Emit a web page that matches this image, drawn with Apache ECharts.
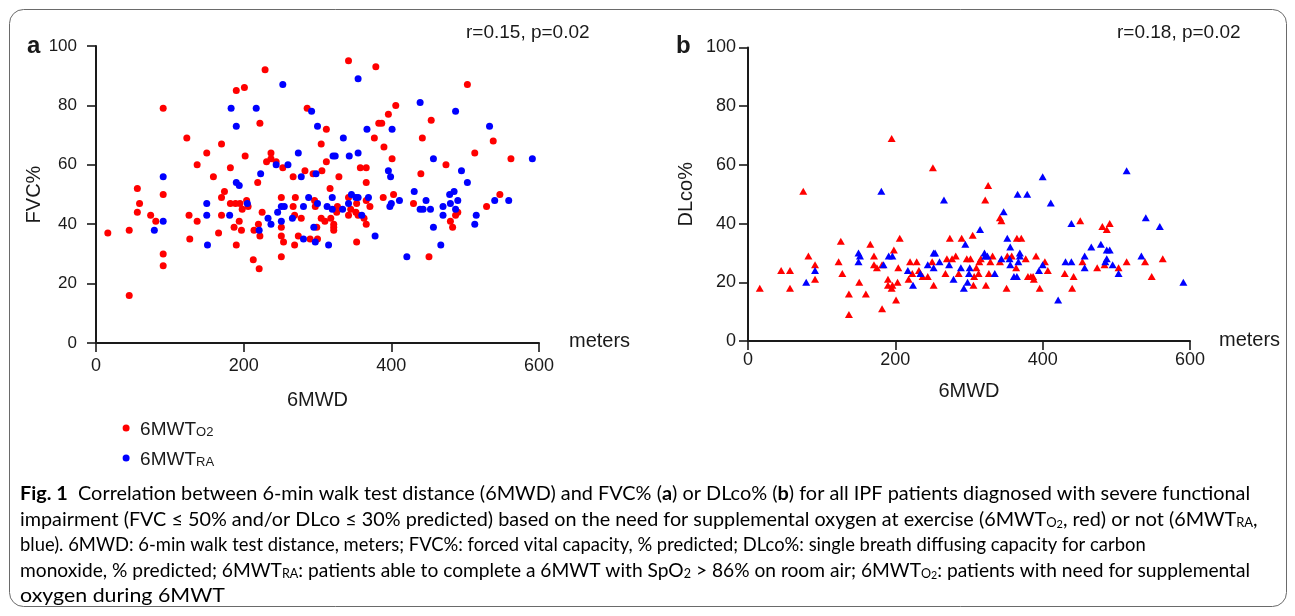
<!DOCTYPE html>
<html>
<head>
<meta charset="utf-8">
<script src="https://cdn.jsdelivr.net/npm/echarts@6/dist/echarts.min.js"></script>
<style>
html,body{margin:0;padding:0;background:#fff;}
#chart{width:1295px;height:616px;}
</style>
</head>
<body>
<div id="chart"></div>
<script>
// ---- Data (6MWD in meters, value in % predicted) ----
var xTicks = [0, 200, 400, 600];
var yTicks = [0, 20, 40, 60, 80, 100];

// Panel a: FVC% vs 6MWD
var fvcO2 = [
[16,37],[45,38],[45,16],[56,52],[59,47],[56,44],[74,43],[81,41],[91,79],[91,50],[91,30],[91,26],
[123,69],[126,43],[127,35],[137,60],[137,41],[150,64],[159,56],[166,37],[170,67],[170,49],[170,43],
[174,51],[182,59],[182,47],[187,39],[190,85],[190,33],[189,47],[195,47],[194,41],[197,38],[198,45],
[201,86],[202,63],[204,48],[206,46],[213,28],[214,38],[219,54],[220,40],[221,25],[222,36],[222,74],
[225,44],[229,92],[231,61],[237,64],[237,62],[244,61],[251,49],[251,39],[251,36],[251,29],[253,59],
[254,34],[267,56],[267,46],[269,43],[269,33],[270,49],[274,36],[278,42],[283,58],[286,79],[290,35],
[294,57],[296,48],[297,46],[299,39],[300,35],[305,67],[306,58],[305,42],[310,41],[312,72],[312,61],
[317,52],[318,42],[322,40],[322,39],[322,38],[327,46],[326,44],[329,56],[342,95],[342,49],[342,43],
[345,45],[352,44],[353,34],[353,47],[355,43],[358,59],[363,42],[366,59],[366,54],[366,40],[371,46],
[366,48],[377,69],[379,93],[383,74],[387,74],[389,49],[390,66],[396,77],[401,62],[403,50],[406,80],
[430,47],[440,57],[442,69],[451,29],[454,75],[474,60],[480,41],[483,39],[487,43],[490,44],[503,87],
[513,64],[529,46],[538,68],[547,50],[562,62]
];
var fvcRA = [
[79,38],[91,56],[91,41],[150,47],[150,43],[151,33],[181,43],[183,79],[190,73],[190,54],[194,53],
[205,47],[217,79],[221,38],[223,57],[233,42],[237,40],[244,60],[246,44],[251,46],[251,41],[253,87],
[255,46],[260,60],[266,42],[274,64],[278,56],[281,46],[281,35],[288,49],[292,78],[295,39],[297,34],
[298,57],[300,47],[300,73],[313,46],[315,33],[320,45],[320,49],[321,63],[324,63],[334,45],[335,69],
[342,47],[343,63],[346,50],[352,49],[355,49],[355,64],[355,89],[360,43],[367,72],[369,49],[378,36],
[396,58],[398,46],[399,56],[401,72],[400,47],[411,48],[421,29],[431,51],[439,81],[439,45],[443,45],
[447,48],[453,45],[457,62],[457,39],[467,33],[470,46],[470,43],[479,50],[480,47],[485,51],[487,78],
[487,45],[490,48],[495,58],[503,54],[513,40],[515,43],[533,73],[540,48],[559,48],[591,62]
];

// Panel b: DLco% vs 6MWD
var dlcoO2 = [
[16,18],[45,24],[57,24],[57,18],[75,51],[82,29],[91,26],[91,21],[123,27],[126,34],[128,23],[137,16],
[137,9],[151,20],[160,16],[166,33],[171,29],[171,26],[175,25],[182,26],[182,11],[190,19],[190,21],
[195,69],[195,18],[196,19],[198,31],[201,14],[203,20],[204,25],[206,35],[218,21],[220,27],[223,23],
[229,27],[232,24],[237,22],[244,22],[251,59],[252,19],[250,27],[268,23],[270,28],[274,35],[277,28],
[282,29],[286,23],[290,35],[297,28],[302,28],[305,36],[306,19],[307,22],[310,25],[313,23],[314,27],
[316,28],[322,48],[323,19],[326,53],[327,23],[329,27],[332,29],[342,42],[344,41],[342,27],[351,18],
[352,29],[358,29],[364,25],[365,35],[371,35],[377,28],[380,22],[384,22],[387,22],[388,21],[391,29],
[396,18],[403,27],[407,24],[430,23],[440,18],[442,22],[451,41],[454,27],[474,25],[481,39],[484,26],
[487,38],[491,40],[503,25],[514,27],[539,27],[548,22],[563,28]
];
var dlcoRA = [
[79,20],[91,24],[150,30],[150,27],[152,29],[181,51],[184,26],[191,29],[196,29],[217,24],[224,19],
[234,23],[244,26],[252,30],[254,30],[252,25],[260,27],[266,48],[273,26],[279,21],[289,25],[293,18],
[295,33],[298,20],[300,23],[301,25],[315,38],[321,30],[322,29],[325,29],[335,23],[344,28],[347,44],
[352,35],[356,32],[355,28],[356,26],[361,22],[365,22],[366,50],[367,27],[369,30],[369,29],[379,50],
[395,24],[400,26],[400,56],[411,47],[421,14],[431,27],[439,40],[439,27],[457,29],[457,25],[466,32],
[479,33],[485,27],[487,28],[487,31],[491,31],[495,26],[503,23],[514,58],[534,29],[540,42],[559,39],
[591,20]
];

var stats = ['r=0.15, p=0.02', 'r=0.18, p=0.02'];
var yNames = ['FVC%', 'DLco%'];
var xName = '6MWD';
var unitLabel = 'meters';

// ---- Styling ----
var RED = '#ff0000', BLUE = '#0000ff', INK = '#1a1a1a';
var AX = 'Liberation Sans, Arial, sans-serif';
var CAP = 'Lato, sans-serif';

var chart = echarts.init(document.getElementById('chart'), null, {renderer: 'canvas'});

function xAxisCfg(idx, labelSize, labelMargin, nameGap) {
  return {
    type: 'value', gridIndex: idx, min: xTicks[0], max: xTicks[xTicks.length - 1],
    interval: xTicks[1] - xTicks[0],
    name: xName, nameLocation: 'middle', nameGap: nameGap,
    nameTextStyle: {fontFamily: AX, fontSize: 20, color: INK},
    axisLine: {show: true, onZero: false, lineStyle: {color: INK, width: 2}},
    axisTick: {show: true, inside: false, length: 9, lineStyle: {color: INK, width: 1.6}},
    axisLabel: {fontFamily: AX, fontSize: labelSize, color: INK, margin: labelMargin},
    splitLine: {show: false}
  };
}
function yAxisCfg(idx, labelSize, labelMargin, name) {
  return {
    type: 'value', gridIndex: idx, min: yTicks[0], max: yTicks[yTicks.length - 1],
    interval: yTicks[1] - yTicks[0],
    name: name, nameLocation: 'middle', nameGap: 52, nameRotate: 90,
    nameTextStyle: {fontFamily: AX, fontSize: 20, color: INK},
    axisLine: {show: true, onZero: false, lineStyle: {color: INK, width: 2}},
    axisTick: {show: true, inside: false, length: 9, lineStyle: {color: INK, width: 1.6}},
    axisLabel: {fontFamily: AX, fontSize: labelSize, color: INK, margin: labelMargin},
    splitLine: {show: false}
  };
}

var legendRich = {
  m: {fontFamily: AX, fontSize: 19, color: INK, verticalAlign: 'bottom', lineHeight: 22},
  s: {fontFamily: AX, fontSize: 13, color: INK, verticalAlign: 'bottom', lineHeight: 12}
};

// caption rich styles
var capRich = {
  n: {fontFamily: CAP, fontSize: 19.8, color: '#222', verticalAlign: 'bottom', lineHeight: 24},
  b: {fontFamily: CAP, fontSize: 19.8, fontWeight: 'bold', color: '#222', verticalAlign: 'bottom', lineHeight: 24},
  s: {fontFamily: CAP, fontSize: 13, color: '#222', verticalAlign: 'bottom', lineHeight: 13},
  ss: {fontFamily: CAP, fontSize: 11, color: '#222', verticalAlign: 'bottom', lineHeight: 9}
};
var captionLines = [
  '{b|Fig. 1}{n|  Correlation between 6-min walk test distance (6MWD) and FVC% (}{b|a}{n|) or DLco% (}{b|b}{n|) for all IPF patients diagnosed with severe functional}',
  '{n|impairment (FVC ≤ 50% and/or DLco ≤ 30% predicted) based on the need for supplemental oxygen at exercise (6MWT}{s|O}{ss|2}{n|, red) or not (6MWT}{s|RA}{n|,}',
  '{n|blue). 6MWD: 6-min walk test distance, meters; FVC%: forced vital capacity, % predicted; DLco%: single breath diffusing capacity for carbon}',
  '{n|monoxide, % predicted; 6MWT}{s|RA}{n|: patients able to complete a 6MWT with SpO}{s|2}{n| > 86% on room air; 6MWT}{s|O}{ss|2}{n|: patients with need for supplemental}',
  '{n|oxygen during 6MWT}'
];
var captionY = [492, 517.5, 543, 568.5, 594];
var captionScaleX = [1.005, 1.0, 0.93, 0.969, 1.08];

var graphics = [
  {type: 'rect', z: -1, shape: {x: 9.5, y: 9.5, width: 1277, height: 597, r: 14},
   style: {fill: 'none', stroke: '#6a6a6a', lineWidth: 1}},
  {type: 'text', style: {x: 27, y: 46, text: 'a', font: 'bold 24px ' + AX, fill: INK, verticalAlign: 'middle'}},
  {type: 'text', style: {x: 676, y: 46.5, text: 'b', font: 'bold 24px ' + AX, fill: INK, verticalAlign: 'middle'}},
  {type: 'text', style: {x: 466, y: 33, text: stats[0], font: '19px ' + AX, fill: INK, verticalAlign: 'middle'}},
  {type: 'text', style: {x: 1117, y: 33, text: stats[1], font: '19px ' + AX, fill: INK, verticalAlign: 'middle'}},
  {type: 'text', style: {x: 569, y: 341.5, text: unitLabel, font: '20px ' + AX, fill: INK, verticalAlign: 'middle'}},
  {type: 'text', style: {x: 1219, y: 340, text: unitLabel, font: '20px ' + AX, fill: INK, verticalAlign: 'middle'}}
];
captionLines.forEach(function (t, i) {
  graphics.push({type: 'text', x: 20, y: captionY[i], scaleX: captionScaleX[i], scaleY: 1,
    style: {x: 0, y: 0, text: t, rich: capRich, verticalAlign: 'middle'}});
});

var option = {
  backgroundColor: '#fff',
  animation: false,
  grid: [
    {left: 96, width: 443, top: 46, height: 297},
    {left: 748, width: 442, top: 47.5, height: 293.5}
  ],
  xAxis: [xAxisCfg(0, 18, 14, 47), xAxisCfg(1, 18, 10, 40)],
  yAxis: [yAxisCfg(0, 17, 19, yNames[0]), yAxisCfg(1, 18, 12, yNames[1])],
  legend: {
    orient: 'vertical', left: 117.6, top: 415, itemWidth: 18, itemHeight: 7, itemGap: 11,
    selectedMode: false,
    data: [{name: '6MWT_O2', icon: 'circle'}, {name: '6MWT_RA', icon: 'circle'}],
    formatter: function (n) { return n === '6MWT_O2' ? '{m|6MWT}{s|O2}' : '{m|6MWT}{s|RA}'; },
    textStyle: {rich: legendRich}
  },
  graphic: graphics,
  series: [
    {name: '6MWT_O2', type: 'scatter', xAxisIndex: 0, yAxisIndex: 0, data: fvcO2,
     symbol: 'circle', symbolSize: 7, itemStyle: {color: RED, opacity: 1}},
    {name: '6MWT_RA', type: 'scatter', xAxisIndex: 0, yAxisIndex: 0, data: fvcRA,
     symbol: 'circle', symbolSize: 7, itemStyle: {color: BLUE, opacity: 1}},
    {name: '6MWT_O2', type: 'scatter', xAxisIndex: 1, yAxisIndex: 1, data: dlcoO2,
     symbol: 'triangle', symbolSize: [8, 7], itemStyle: {color: RED, opacity: 1}},
    {name: '6MWT_RA', type: 'scatter', xAxisIndex: 1, yAxisIndex: 1, data: dlcoRA,
     symbol: 'triangle', symbolSize: [8, 7], itemStyle: {color: BLUE, opacity: 1}}
  ]
};
chart.setOption(option);
</script>
</body>
</html>
